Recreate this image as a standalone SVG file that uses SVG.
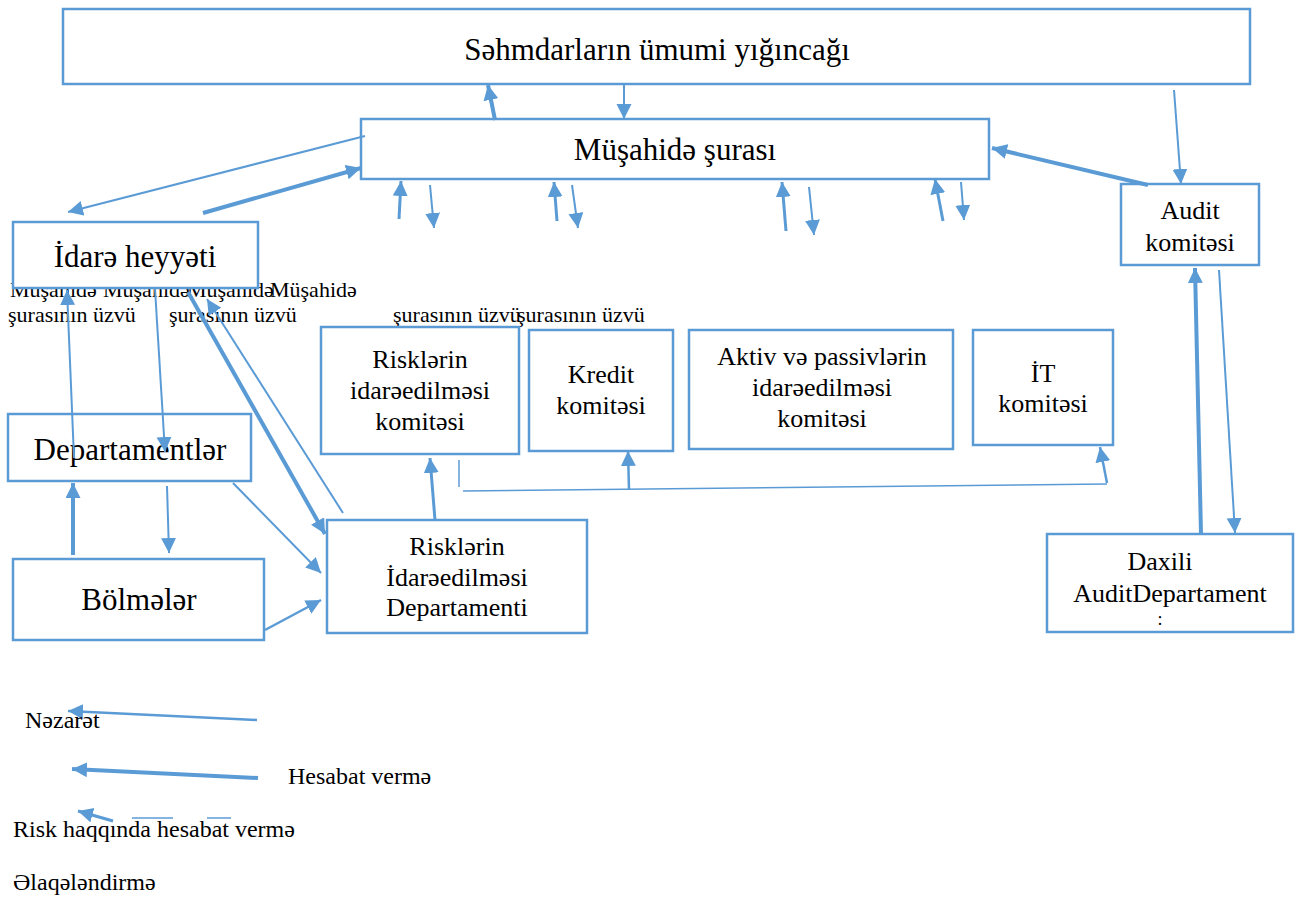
<svg xmlns="http://www.w3.org/2000/svg" width="1300" height="900" viewBox="0 0 1300 900">
<defs>
<style>
.box{fill:#fff;stroke:#5B9BD5;stroke-width:2.5}
.t{font-family:"Liberation Serif","Times New Roman",serif;fill:#000}
.big{font-size:31px;text-anchor:middle}
.mid{font-size:26px;text-anchor:middle}
.sm{font-size:22px}
.lg{font-size:24px}
.c{fill:none;stroke:#5B9BD5;stroke-linecap:butt}
.thin{stroke-width:2;marker-end:url(#ah)}
.thick{stroke-width:4;marker-end:url(#ah)}
.med{stroke-width:3;marker-end:url(#ah)}
.plain{stroke-width:1.5}
</style>
<marker id="ah" markerUnits="userSpaceOnUse" markerWidth="16" markerHeight="16" refX="15" refY="7.5" orient="auto">
<path d="M0,0 L15,7.5 L0,15 z" fill="#5B9BD5"/>
</marker>
</defs>

<g id="labels">
<text class="t sm" x="10" y="297">Müşahidə</text>
<text class="t sm" x="103" y="297">Müşahidə</text>
<text class="t sm" x="187" y="297">Müşahidə</text>
<text class="t sm" x="270" y="297">Müşahidə</text>
<text class="t sm" x="8" y="322">şurasının üzvü</text>
<text class="t sm" x="169" y="322">şurasının üzvü</text>
<text class="t sm" x="393" y="322">şurasının üzvü</text>
<text class="t sm" x="517" y="322">şurasının üzvü</text>
</g>

<g id="n-shareholders">
<rect class="box" x="63" y="9" width="1187" height="75"/>
<text class="t big" x="657" y="60">Səhmdarların ümumi yığıncağı</text>
</g>
<g id="n-supervisory">
<rect class="box" x="361" y="119" width="628" height="60"/>
<text class="t big" x="675" y="160">Müşahidə şurası</text>
</g>
<g id="n-board">
<rect class="box" x="13" y="222" width="245" height="66"/>
<text class="t big" x="135" y="267">İdarə heyyəti</text>
</g>
<g id="n-departments">
<rect class="box" x="8" y="414" width="243" height="67"/>
<text class="t big" x="130" y="460">Departamentlər</text>
</g>
<g id="n-units">
<rect class="box" x="13" y="559" width="251" height="81"/>
<text class="t big" x="139" y="610">Bölmələr</text>
</g>
<g id="n-riskdept">
<rect class="box" x="327" y="520" width="260" height="113"/>
<text class="t mid" x="457" y="555">Risklərin</text>
<text class="t mid" x="457" y="586">İdarəedilməsi</text>
<text class="t mid" x="457" y="616">Departamenti</text>
</g>
<g id="n-riskcom">
<rect class="box" x="321" y="327" width="198" height="127"/>
<text class="t mid" x="420" y="368">Risklərin</text>
<text class="t mid" x="420" y="399">idarəedilməsi</text>
<text class="t mid" x="420" y="430">komitəsi</text>
</g>
<g id="n-credit">
<rect class="box" x="529" y="330" width="144" height="121"/>
<text class="t mid" x="601" y="383">Kredit</text>
<text class="t mid" x="601" y="414">komitəsi</text>
</g>
<g id="n-alco">
<rect class="box" x="689" y="330" width="264" height="119"/>
<text class="t mid" x="822" y="365">Aktiv və passivlərin</text>
<text class="t mid" x="822" y="396">idarəedilməsi</text>
<text class="t mid" x="822" y="427">komitəsi</text>
</g>
<g id="n-it">
<rect class="box" x="973" y="330" width="140" height="115"/>
<text class="t mid" x="1043" y="382">İT</text>
<text class="t mid" x="1043" y="412">komitəsi</text>
</g>
<g id="n-auditcom">
<rect class="box" x="1121" y="184" width="138" height="81"/>
<text class="t mid" x="1190" y="219">Audit</text>
<text class="t mid" x="1190" y="251">komitəsi</text>
</g>
<g id="n-internalaudit">
<rect class="box" x="1047" y="534" width="246" height="98"/>
<text class="t mid" x="1160" y="570">Daxili</text>
<text class="t mid" x="1170" y="602">AuditDepartament</text>
<text class="t" x="1160" y="625" style="font-size:18px;text-anchor:middle">:</text>
</g>

<g id="connectors">
<line class="c thick" x1="495" y1="120" x2="488" y2="85"/>
<line class="c thin" x1="624" y1="85" x2="624" y2="119"/>
<line class="c thin" x1="1174" y1="90" x2="1181" y2="184"/>
<line class="c thick" x1="1148" y1="185" x2="992" y2="148"/>
<line class="c thin" x1="365" y1="136" x2="68" y2="212"/>
<line class="c thick" x1="203" y1="213" x2="361" y2="168"/>

<line class="c med" x1="399" y1="219" x2="401" y2="181"/>
<line class="c thin" x1="430" y1="185" x2="434" y2="228"/>
<line class="c med" x1="557" y1="221" x2="554" y2="182"/>
<line class="c thin" x1="572" y1="185" x2="578" y2="228"/>
<line class="c med" x1="786" y1="231" x2="782" y2="182"/>
<line class="c thin" x1="809" y1="187" x2="814" y2="235"/>
<line class="c med" x1="943" y1="221" x2="935" y2="179"/>
<line class="c thin" x1="961" y1="182" x2="964" y2="220"/>

<line class="c thin" x1="74" y1="458" x2="67" y2="290"/>
<line class="c thin" x1="155" y1="289" x2="165" y2="452"/>
<line class="c thick" x1="188" y1="292" x2="325" y2="534"/>
<line class="c thin" x1="343" y1="513" x2="207" y2="299"/>
<line class="c thick" x1="73" y1="555" x2="73" y2="483"/>
<line class="c thin" x1="167" y1="486" x2="169" y2="553"/>
<line class="c thin" x1="233" y1="483" x2="321" y2="573"/>
<line class="c thin" x1="265" y1="630" x2="321" y2="600" style="stroke-width:2.5"/>
<line class="c med" x1="435" y1="520" x2="430" y2="458"/>

<line class="c plain" x1="459" y1="460" x2="459" y2="487"/>
<line class="c plain" x1="463" y1="491" x2="1107" y2="484"/>
<line class="c med" x1="629" y1="490" x2="628" y2="451" style="stroke-width:2.5"/>
<line class="c med" x1="1107" y1="483" x2="1100" y2="447" style="stroke-width:2.5"/>

<line class="c thick" x1="1201" y1="534" x2="1195" y2="268"/>
<line class="c thin" x1="1219" y1="270" x2="1235" y2="533"/>
</g>

<g id="legend">
<line class="c thin" x1="257" y1="720" x2="68" y2="711" style="stroke-width:2.5"/>
<text class="t lg" x="25" y="728">Nəzarət</text>
<line class="c thick" x1="258" y1="778" x2="72" y2="769"/>
<text class="t lg" x="288" y="784">Hesabat vermə</text>
<line class="c med" x1="113" y1="821" x2="78" y2="811"/>
<line class="c plain" x1="132" y1="818" x2="173" y2="818"/>
<line class="c plain" x1="207" y1="818" x2="231" y2="818"/>
<text class="t lg" x="13" y="837">Risk haqqında hesabat vermə</text>
<text class="t lg" x="13" y="890">Əlaqələndirmə</text>
</g>
</svg>
